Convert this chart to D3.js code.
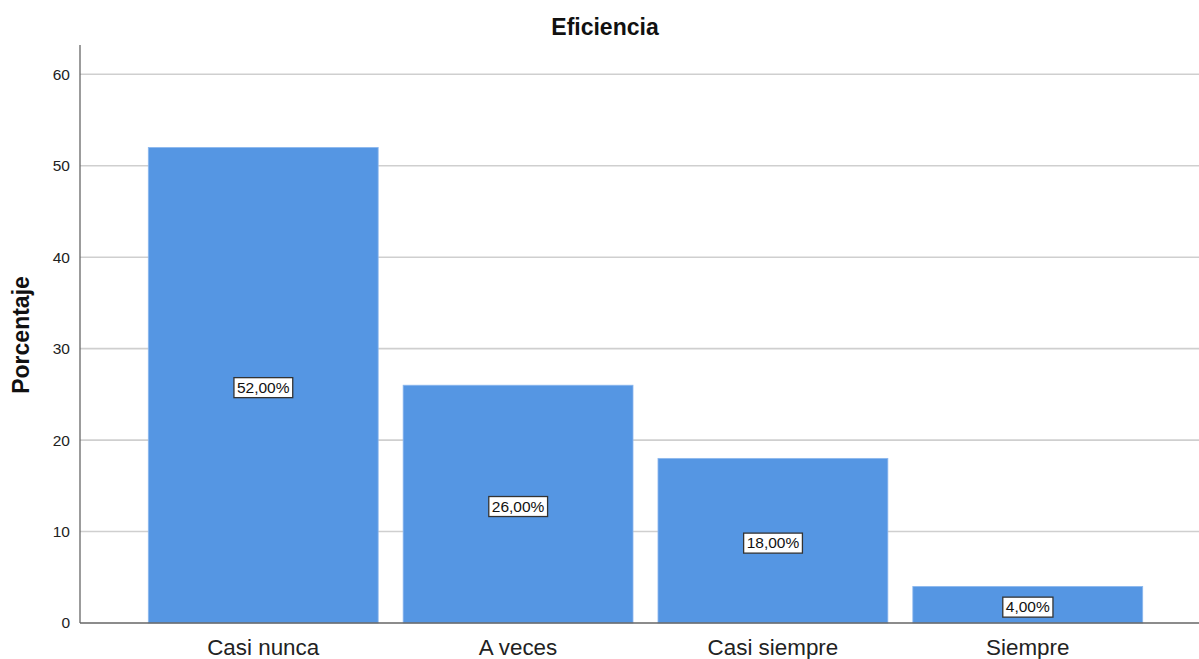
<!DOCTYPE html>
<html>
<head>
<meta charset="utf-8">
<script src="https://cdn.jsdelivr.net/npm/d3@7"></script>
<style>
  html, body { margin: 0; padding: 0; background: #fff; }
  svg { display: block; font-family: "Liberation Sans", Arial, sans-serif; }
</style>
</head>
<body>
<svg id="chart" width="1199" height="659"></svg>
<script>
// Eficiencia — frequency distribution (%)
const categories = ["Casi nunca", "A veces", "Casi siempre", "Siempre"];
const values = [52, 26, 18, 4];
const yTicks = [0, 10, 20, 30, 40, 50, 60];

const svg = d3.select("#chart");
const W = 1199, H = 659;
const plotLeft = 80, plotTop = 45, plotBottom = 623;

const y = d3.scaleLinear().domain([0, 63.2]).range([plotBottom, plotTop]);
const x = d3.scaleBand()
  .domain(categories)
  .range([plotLeft, 1211])
  .paddingInner(0.098)
  .paddingOuter(0.268);

// gridlines
svg.append("g")
  .selectAll("line")
  .data(yTicks.filter(d => d > 0))
  .join("line")
  .attr("x1", plotLeft).attr("x2", W)
  .attr("y1", d => y(d)).attr("y2", d => y(d))
  .attr("stroke", "#cfcfcf")
  .attr("stroke-width", 1.6);

// bars
svg.append("g")
  .selectAll("rect")
  .data(values)
  .join("rect")
  .attr("x", (d, i) => x(categories[i]))
  .attr("y", d => y(d))
  .attr("width", x.bandwidth())
  .attr("height", d => y(0) - y(d))
  .attr("fill", "#5596e3")
  .attr("stroke", "#8db8ee")
  .attr("stroke-width", 0.8);

// value labels in boxes
const lab = svg.append("g")
  .selectAll("g")
  .data(values)
  .join("g")
  .attr("transform", (d, i) => `translate(${x(categories[i]) + x.bandwidth() / 2},${y(d / 2) + 2})`);

lab.append("text")
  .attr("text-anchor", "middle")
  .attr("dy", "0.35em")
  .attr("font-size", 15.5)
  .attr("fill", "#111")
  .text(d => d.toFixed(2).replace(".", ",") + "%")
  .each(function () {
    const b = this.getBBox();
    d3.select(this.parentNode).insert("rect", "text")
      .attr("x", b.x - 3).attr("y", b.y - 1)
      .attr("width", b.width + 6).attr("height", b.height + 3)
      .attr("fill", "#fff")
      .attr("stroke", "#333")
      .attr("stroke-width", 1.3);
  });

// axes lines
svg.append("line")
  .attr("x1", plotLeft).attr("x2", plotLeft)
  .attr("y1", plotTop).attr("y2", plotBottom)
  .attr("stroke", "#666").attr("stroke-width", 1.3);
svg.append("line")
  .attr("x1", plotLeft).attr("x2", W)
  .attr("y1", plotBottom).attr("y2", plotBottom)
  .attr("stroke", "#666").attr("stroke-width", 1.3);

// y tick labels
svg.append("g")
  .selectAll("text")
  .data(yTicks)
  .join("text")
  .attr("x", 70)
  .attr("y", d => y(d))
  .attr("dy", "0.35em")
  .attr("text-anchor", "end")
  .attr("font-size", 15.5)
  .attr("fill", "#222")
  .text(d => d);

// x category labels
svg.append("g")
  .selectAll("text")
  .data(categories)
  .join("text")
  .attr("x", d => x(d) + x.bandwidth() / 2)
  .attr("y", 655)
  .attr("text-anchor", "middle")
  .attr("font-size", 22.4)
  .attr("fill", "#222")
  .text(d => d);

// title
svg.append("text")
  .attr("x", 605).attr("y", 35)
  .attr("text-anchor", "middle")
  .attr("font-size", 23)
  .attr("font-weight", "bold")
  .attr("fill", "#111")
  .text("Eficiencia");

// y axis title
svg.append("text")
  .attr("transform", "translate(29,335) rotate(-90)")
  .attr("text-anchor", "middle")
  .attr("font-size", 23)
  .attr("font-weight", "bold")
  .attr("fill", "#111")
  .text("Porcentaje");
</script>
</body>
</html>
